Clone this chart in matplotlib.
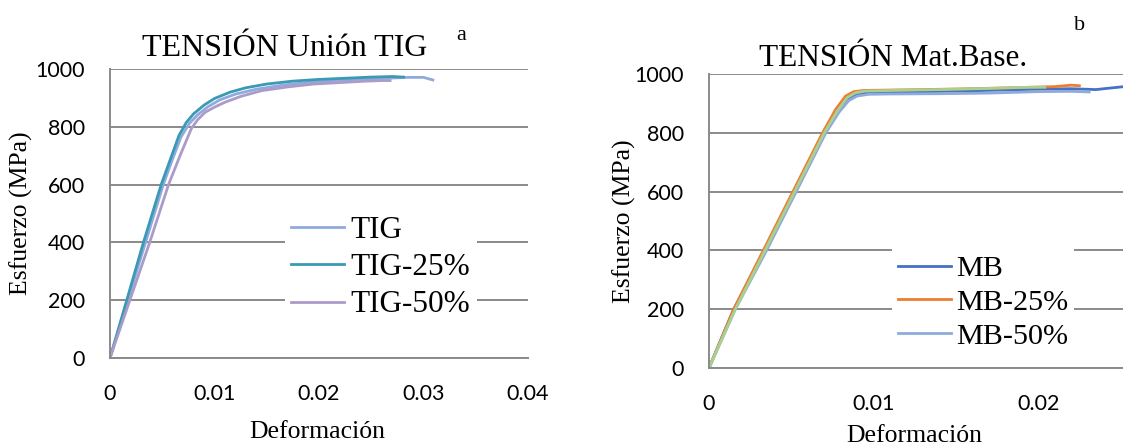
import matplotlib
matplotlib.use("Agg")
import matplotlib.pyplot as plt

# ---- data: stress (MPa) vs strain ----
tig_strain = [0, 0.0017, 0.0034, 0.0051, 0.0060, 0.0068, 0.0076, 0.0084, 0.0094, 0.0105,
              0.0120, 0.0140, 0.0165, 0.0190, 0.0215, 0.0240, 0.0265, 0.0285, 0.0300, 0.0309]
tig_stress = [0, 200, 400, 600, 690, 765, 812, 842, 870, 893,
              913, 930, 944, 954, 960, 965, 968, 971, 971, 962]

tig25_strain = [0, 0.0016, 0.0032, 0.0049, 0.0058, 0.0066, 0.0073, 0.0080, 0.0090, 0.0100,
                0.0115, 0.0130, 0.0150, 0.0175, 0.0200, 0.0225, 0.0250, 0.0270, 0.0281]
tig25_stress = [0, 200, 400, 600, 690, 770, 815, 845, 875, 898,
                920, 935, 948, 958, 964, 968, 972, 974, 972]

tig50_strain = [0, 0.0019, 0.0038, 0.0056, 0.0067, 0.0078, 0.0084, 0.0091, 0.0100, 0.0110,
                0.0125, 0.0145, 0.0170, 0.0195, 0.0220, 0.0245, 0.0260, 0.0268]
tig50_stress = [0, 200, 400, 600, 700, 795, 825, 850, 868, 885,
                905, 925, 938, 948, 953, 958, 960, 960]

mb_strain = [0, 0.0015, 0.0034, 0.0052, 0.0070, 0.0078, 0.0084, 0.0089, 0.0095, 0.0105,
             0.0130, 0.0160, 0.0190, 0.0220, 0.0235, 0.0240, 0.0252]
mb_stress = [0, 200, 400, 600, 800, 875, 915, 930, 935, 937,
             940, 943, 947, 950, 947, 950, 957]

mb25_strain = [0, 0.0015, 0.0033, 0.0051, 0.0069, 0.0077, 0.0083, 0.0088, 0.0094, 0.0105,
               0.0130, 0.0160, 0.0190, 0.0210, 0.0220, 0.0225]
mb25_stress = [0, 200, 400, 600, 800, 880, 925, 940, 944, 945,
               947, 950, 954, 957, 962, 960]

mb50_strain = [0, 0.0016, 0.0035, 0.0053, 0.0071, 0.0079, 0.0085, 0.0090, 0.0097, 0.0110,
               0.0140, 0.0170, 0.0200, 0.0220, 0.0231]
mb50_stress = [0, 200, 400, 600, 800, 870, 910, 925, 931, 932,
               933, 935, 940, 941, 939]

mb4_strain = [0, 0.0016, 0.0034, 0.0052, 0.0070, 0.0078, 0.0084, 0.0089, 0.0095, 0.0110,
              0.0140, 0.0170, 0.0195, 0.0204]
mb4_stress = [0, 200, 400, 600, 800, 875, 920, 936, 942, 944,
              947, 951, 955, 955]

yticks = [0, 200, 400, 600, 800, 1000]
xticks_a = [0, 0.01, 0.02, 0.03, 0.04]
xticks_b = [0, 0.01, 0.02]
xticklabels_a = ["0", "0.01", "0.02", "0.03", "0.04"]
xticklabels_b = ["0", "0.01", "0.02"]

SERIF = "Liberation Serif"
SANS = "Lato"
GRID = "#8a8a8a"

W, H = 1123, 448
fig = plt.figure(figsize=(W / 100, H / 100), dpi=100)


def box(l, t, r, b):
    return [l / W, 1 - b / H, (r - l) / W, (b - t) / H]


def style(ax, xticks, xlabels, xmax):
    ax.set_xlim(0, xmax)
    ax.set_ylim(0, 1000)
    ax.set_yticks(yticks)
    ax.set_xticks(xticks)
    ax.set_xticklabels(xlabels)
    ax.grid(axis="y", color=GRID, lw=1.4)
    ax.set_axisbelow(True)
    for s in ("top", "right"):
        ax.spines[s].set_visible(False)
    for s in ("left", "bottom"):
        ax.spines[s].set_color(GRID)
        ax.spines[s].set_linewidth(1.4)
    ax.tick_params(axis="both", length=0, labelsize=15.5, labelcolor="black")
    ax.tick_params(axis="y", pad=18)
    ax.tick_params(axis="x", pad=19)
    for lab in ax.get_xticklabels() + ax.get_yticklabels():
        lab.set_fontfamily(SANS)
    ax.set_xlabel("Deformación", fontfamily=SERIF, fontsize=18.5)
    ax.set_ylabel("Esfuerzo (MPa)", fontfamily=SERIF, fontsize=18.5)
    ax.xaxis.label.set_va("center")
    ax.yaxis.label.set_va("center")


# ---- panel a: welded joint ----
axa = fig.add_axes(box(110, 69, 528, 358))
axa.plot(tig_strain, tig_stress, color="#8faadc", lw=2, label="TIG")
axa.plot(tig25_strain, tig25_stress, color="#3a9ab5", lw=2, label="TIG-25%")
axa.plot(tig50_strain, tig50_stress, color="#ab9bc9", lw=2, label="TIG-50%")
style(axa, xticks_a, xticklabels_a, 0.04)
axa.xaxis.set_label_coords(0.497, (358 - 432) / 289)
axa.yaxis.set_label_coords((21 - 110) / 418, 0.5)
leg_a = axa.legend(loc="upper left", bbox_to_anchor=(285 / W, 1 - 210 / H),
                   bbox_transform=fig.transFigure, prop={"family": SERIF, "size": 22.5},
                   frameon=True, facecolor="white", edgecolor="none", framealpha=1,
                   fancybox=False, borderpad=0.2, borderaxespad=0, handlelength=1.7,
                   handletextpad=0.2, labelspacing=0.26)
fig.text(285 / W, 1 - 48 / H, "TENSIÓN Unión TIG", family=SERIF, fontsize=23,
         ha="center", va="center")
fig.text(461 / W, 1 - 36 / H, "a", family=SERIF, fontsize=16, ha="center", va="center")

# ---- panel b: base material ----
axb = fig.add_axes(box(709, 74, 1123, 368))
axb.plot(mb_strain, mb_stress, color="#4472c4", lw=2, label="MB")
axb.plot(mb25_strain, mb25_stress, color="#ed7d31", lw=2, label="MB-25%")
axb.plot(mb50_strain, mb50_stress, color="#8faadc", lw=2, label="MB-50%")
axb.plot(mb4_strain, mb4_stress, color="#a9d18e", lw=2, label="_nolegend_")
style(axb, xticks_b, xticklabels_b, (1123 - 709) / 16460)
axb.xaxis.set_label_coords((914 - 709) / 414, (368 - 436) / 294)
axb.yaxis.set_label_coords((624 - 709) / 414, 0.5)
leg_b = axb.legend(loc="upper left", bbox_to_anchor=(892 / W, 1 - 249 / H),
                   bbox_transform=fig.transFigure, prop={"family": SERIF, "size": 21.7},
                   frameon=True, facecolor="white", edgecolor="none", framealpha=1,
                   fancybox=False, borderpad=0.2, borderaxespad=0, handlelength=1.75,
                   handletextpad=0.17, labelspacing=0.22)
fig.text(893 / W, 1 - 58 / H, "TENSIÓN Mat.Base.", family=SERIF, fontsize=22.5,
         ha="center", va="center")
fig.text(1080 / W, 1 - 25 / H, "b", family=SERIF, fontsize=16, ha="center", va="center")

fig.savefig("out.png", dpi=100)
